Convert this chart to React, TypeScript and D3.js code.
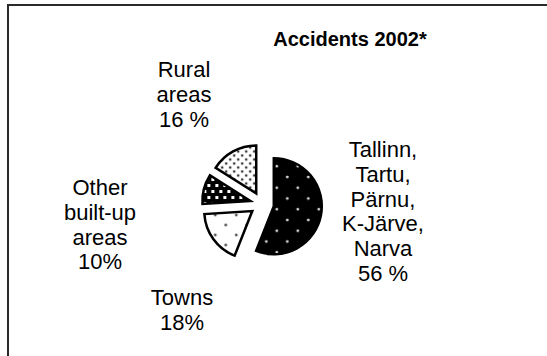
import React from "react";
import * as d3 from "d3";

const categories = ["Tallinn, Tartu, Pärnu, K-Järve, Narva", "Towns", "Other built-up areas", "Rural areas"];
const shares = [56, 18, 10, 16];
const labelLines = [
  ["Tallinn,", "Tartu,", "Pärnu,", "K-Järve,", "Narva", "56 %"],
  ["Towns", "18%"],
  ["Other", "built-up", "areas", "10%"],
  ["Rural", "areas", "16 %"],
];
const title = "Accidents 2002*";

const W = 547;
const H = 356;
const cx = 262;
const cy = 204;
const radius = 48;
const explode = 12;
const fontFamily = "'Liberation Sans', Arial, sans-serif";
const lineH = 24.8;

// label anchor: centre x and first baseline y
const labelPos = [
  { x: 383, y: 157 },
  { x: 182, y: 305 },
  { x: 100, y: 195 },
  { x: 184, y: 77 },
];

const fills = ["url(#pTallinn)", "url(#pTowns)", "url(#pOther)", "url(#pRural)"];

export default function App() {
  const pie = d3
    .pie<number>()
    .sort(null)
    .value((d) => d)
    .startAngle(0)
    .endAngle(2 * Math.PI);
  const arcs = pie(shares);
  const arc = d3.arc<d3.PieArcDatum<number>>().innerRadius(0).outerRadius(radius);

  return (
    <svg
      width={W}
      height={H}
      style={{ position: "absolute", left: 0, top: 0, background: "#fff" }}
    >
      <defs>
        <pattern id="pTallinn" patternUnits="userSpaceOnUse" width={21} height={21.5}>
          <rect width={21} height={21.5} fill="#000" />
          <circle cx={3} cy={3} r={1.4} fill="#e0e0e0" />
          <circle cx={13.5} cy={13.75} r={1.4} fill="#e0e0e0" />
        </pattern>
        <pattern id="pTowns" patternUnits="userSpaceOnUse" width={21} height={20}>
          <rect width={21} height={20} fill="#fff" />
          <circle cx={5} cy={4} r={1.4} fill="#555" />
          <circle cx={15.5} cy={14} r={1.4} fill="#555" />
        </pattern>
        <pattern id="pOther" patternUnits="userSpaceOnUse" width={8} height={12}>
          <rect width={8} height={12} fill="#000" />
          <rect x={1} y={1} width={3} height={3} fill="#fff" />
          <rect x={5} y={7} width={3} height={3} fill="#fff" />
        </pattern>
        <pattern id="pRural" patternUnits="userSpaceOnUse" width={8} height={8}>
          <rect width={8} height={8} fill="#fff" />
          <circle cx={2} cy={2} r={1.3} fill="#333" />
          <circle cx={6} cy={6} r={1.3} fill="#333" />
        </pattern>
      </defs>

      <rect x={8} y={5} width={W + 20} height={H + 20} fill="none" stroke="#2a2a2a" strokeWidth={2} />

      <text
        x={350}
        y={46}
        textAnchor="middle"
        fontFamily={fontFamily}
        fontWeight="bold"
        fontSize={20}
        fill="#000"
      >
        {title}
      </text>

      <g transform={`translate(${cx},${cy})`}>
        {arcs.map((a, i) => {
          const mid = (a.startAngle + a.endAngle) / 2;
          const dx = Math.sin(mid) * explode;
          const dy = -Math.cos(mid) * explode;
          return (
            <path
              key={categories[i]}
              d={arc(a) || ""}
              transform={`translate(${dx},${dy})`}
              fill={fills[i]}
              stroke="#000"
              strokeWidth={2.5}
              strokeLinejoin="miter"
            />
          );
        })}
      </g>

      {labelLines.map((lines, i) => (
        <text
          key={categories[i]}
          textAnchor="middle"
          fontFamily={fontFamily}
          fontSize={22}
          fill="#000"
        >
          {lines.map((ln, j) => (
            <tspan key={j} x={labelPos[i].x} y={labelPos[i].y + j * lineH}>
              {ln}
            </tspan>
          ))}
        </text>
      ))}
    </svg>
  );
}
